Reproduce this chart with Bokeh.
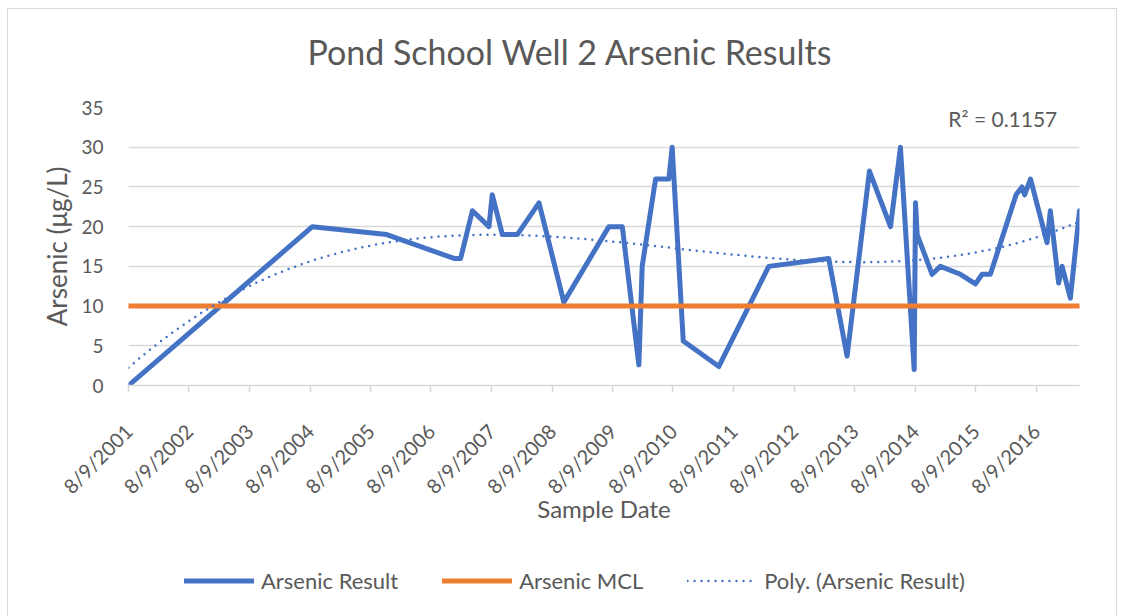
import numpy as np
import pandas as pd
from bokeh.plotting import figure
from bokeh.models import Range1d, FixedTicker, Legend, LegendItem, Label, Title
from bokeh.embed import file_html
from bokeh.resources import INLINE

# ---------------- data ----------------
sample_dates = ["2001-08-09", "2004-08-23", "2005-11-15", "2006-12-26", "2007-02-04",
                "2007-04-16", "2007-07-25", "2007-08-14", "2007-10-14", "2008-01-12",
                "2008-05-22", "2008-10-19", "2009-07-18", "2009-10-07", "2010-01-15",
                "2010-02-04", "2010-04-26", "2010-07-15", "2010-08-04", "2010-10-10",
                "2011-05-13", "2012-03-09", "2013-03-06", "2013-06-25", "2013-11-07",
                "2014-03-14", "2014-05-13", "2014-08-04", "2014-08-12", "2014-08-22",
                "2014-11-20", "2015-01-09", "2015-05-10", "2015-08-09", "2015-09-18",
                "2015-11-07", "2016-04-10", "2016-05-16", "2016-06-01", "2016-07-06",
                "2016-10-14", "2016-11-03", "2016-12-23", "2017-01-13", "2017-03-04",
                "2017-04-28"]
arsenic_result = [0, 20, 19, 16, 16, 22, 20, 24, 19, 19,
                  23, 10.5, 20, 20, 2.6, 15, 26, 26, 30, 5.6,
                  2.4, 15, 16, 3.7, 27, 20, 30, 2, 23, 19,
                  14, 15, 14, 12.8, 14, 14, 24, 25, 24, 26,
                  18, 22, 12.9, 15, 11, 22]
arsenic_mcl = 10
tick_labels = ["8/9/2001", "8/9/2002", "8/9/2003", "8/9/2004", "8/9/2005", "8/9/2006",
               "8/9/2007", "8/9/2008", "8/9/2009", "8/9/2010", "8/9/2011", "8/9/2012",
               "8/9/2013", "8/9/2014", "8/9/2015", "8/9/2016"]
y_ticks = [0, 5, 10, 15, 20, 25, 30, 35]
poly_order = 3
r2_text = "R² = 0.1157"
legend_labels = ["Arsenic Result", "Arsenic MCL", "Poly. (Arsenic Result)"]

# ---------------- derived ----------------
dates = pd.to_datetime(sample_dates)
days = np.asarray((dates - dates[0]).days, dtype=float)
coef = np.polyfit(days, arsenic_result, poly_order)
trend_days = np.linspace(0, days[-1], 400)
trend_vals = np.polyval(coef, trend_days)
trend_dates = dates[0] + pd.to_timedelta(trend_days, unit="D")
mcl_vals = [arsenic_mcl for _ in sample_dates]

tick_dt = pd.to_datetime(tick_labels, format="%m/%d/%Y")
tick_ms = [float(t.value // 10**6) for t in tick_dt]
overrides = {ms: lab for ms, lab in zip(tick_ms, tick_labels)}

FONT = "Lato"
TXT = "#595959"
GRID = "#d9d9d9"
BLUE = "#4472C4"
ORANGE = "#ED7D31"

RES_STYLE = dict(line_color=BLUE, line_width=5, line_cap="round")
MCL_STYLE = dict(line_color=ORANGE, line_width=5, line_cap="round")
POLY_STYLE = dict(line_color=BLUE, line_width=2.5, line_dash="0 7", line_cap="round")

p = figure(frame_width=951, frame_height=278, x_axis_type="datetime",
           output_backend="svg", toolbar_location=None, title_location=None,
           x_range=Range1d(dates[0], dates[-1]), y_range=Range1d(0, 35),
           min_border_left=120, min_border_right=37, min_border_top=98,
           min_border_bottom=240)
p.styles = {"border": "1px solid #d9d9d9", "margin-left": "7px", "margin-top": "8px"}
p.outline_line_color = None
p.background_fill_color = "white"
p.border_fill_color = "white"

# spacer between frame and title, then the title itself
p.add_layout(Title(text=" ", text_font_size="12px", standoff=1), "above")
p.add_layout(Title(text="Pond School Well 2 Arsenic Results", align="left", offset=179,
                   standoff=38, text_font=FONT, text_font_size="34px",
                   text_font_style="normal", text_color=TXT), "above")

# grid
p.xgrid.grid_line_color = None
p.ygrid.grid_line_color = GRID
p.ygrid.grid_line_width = 1.5

# y axis
p.yaxis.ticker = FixedTicker(ticks=y_ticks)
p.yaxis.axis_line_color = None
p.yaxis.major_tick_line_color = None
p.yaxis.minor_tick_line_color = None
p.yaxis.major_label_text_font = FONT
p.yaxis.major_label_text_font_size = "19px"
p.yaxis.major_label_text_color = TXT
p.yaxis.major_label_standoff = 19
p.yaxis.axis_label = "Arsenic (μg/L)"
p.yaxis.axis_label_text_font = FONT
p.yaxis.axis_label_text_font_size = "26px"
p.yaxis.axis_label_text_font_style = "normal"
p.yaxis.axis_label_text_color = TXT
p.yaxis.axis_label_standoff = 5

# x axis
p.xaxis.ticker = FixedTicker(ticks=tick_ms)
p.xaxis.major_label_overrides = overrides
p.xaxis.major_label_orientation = np.pi / 4
p.xaxis.axis_line_color = GRID
p.xaxis.axis_line_width = 1.5
p.xaxis.major_tick_line_color = GRID
p.xaxis.major_tick_line_width = 1.5
p.xaxis.major_tick_in = 0
p.xaxis.major_tick_out = 7
p.xaxis.minor_tick_line_color = None
p.xaxis.major_label_text_font = FONT
p.xaxis.major_label_text_font_size = "20px"
p.xaxis.major_label_text_color = TXT
p.xaxis.major_label_standoff = 35
p.xaxis.axis_label = "Sample Date"
p.xaxis.axis_label_text_font = FONT
p.xaxis.axis_label_text_font_size = "24px"
p.xaxis.axis_label_text_font_style = "normal"
p.xaxis.axis_label_text_color = TXT
p.xaxis.axis_label_standoff = -15

# series
p.line(dates, arsenic_result, line_join="round", **RES_STYLE)
p.line(dates, mcl_vals, **MCL_STYLE)
p.line(trend_dates, trend_vals, **POLY_STYLE)

p.add_layout(Label(x=pd.Timestamp("2016-12-15"), y=33.6, text=r2_text,
                   text_align="right", text_baseline="middle",
                   text_font=FONT, text_font_size="21px", text_color=TXT))

# ---------------- legend strip (placed under the axis title) ----------------
# the strip's ranges lie far away from the data, so its lines only feed the legend keys
lg = figure(width=820, height=40, output_backend="svg", toolbar_location=None,
            title_location=None, x_axis_location=None, y_axis_location=None,
            min_border=0, x_range=Range1d(-2, -1), y_range=Range1d(-2, -1))
lg.styles = {"position": "absolute", "left": "184px", "top": "560px"}
lg.outline_line_color = None
lg.background_fill_alpha = 0
lg.border_fill_alpha = 0
lg.xgrid.visible = False
lg.ygrid.visible = False
k_res = lg.line(days, arsenic_result, **RES_STYLE)
k_mcl = lg.line(days, mcl_vals, **MCL_STYLE)
k_poly = lg.line(trend_days, trend_vals, **POLY_STYLE)

legend = Legend(items=[LegendItem(label=legend_labels[0], renderers=[k_res]),
                       LegendItem(label=legend_labels[1], renderers=[k_mcl]),
                       LegendItem(label=legend_labels[2], renderers=[k_poly])],
                orientation="horizontal", location="center_left",
                glyph_width=70, glyph_height=20, label_standoff=7, spacing=44,
                padding=0, margin=0,
                label_text_font=FONT, label_text_font_size="22px",
                label_text_color=TXT, border_line_color=None,
                background_fill_alpha=0)
lg.add_layout(legend)

open("out.html", "w").write(file_html([p, lg], INLINE))
